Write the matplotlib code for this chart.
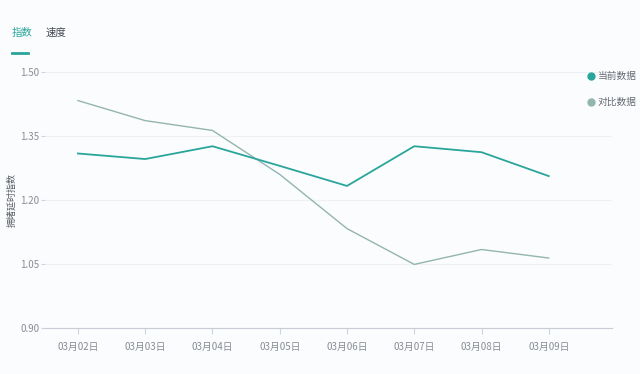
import matplotlib
matplotlib.use("Agg")
import matplotlib.pyplot as plt

plt.rcParams['font.family'] = ['Noto Sans CJK SC', 'DejaVu Sans']

dates = ['03月02日', '03月03日', '03月04日', '03月05日', '03月06日', '03月07日', '03月08日', '03月09日']
current = [1.309, 1.296, 1.326, 1.280, 1.233, 1.326, 1.312, 1.256]
compare = [1.433, 1.386, 1.363, 1.260, 1.133, 1.049, 1.084, 1.064]
y_ticks = [0.90, 1.05, 1.20, 1.35, 1.50]
tabs = ['指数', '速度']
series_names = ['当前数据', '对比数据']

teal = '#2aa59b'
gray_teal = '#93b5ae'
bg = '#fbfcfe'
label_color = '#888c94'

fig = plt.figure(figsize=(6.4, 3.74), dpi=100)
fig.patch.set_facecolor(bg)
ax = fig.add_axes([45 / 640, 1 - 328 / 374, (612 - 45) / 640, (328 - 72) / 374])
ax.set_facecolor(bg)

x = list(range(len(dates)))
ax.plot(x, current, color=teal, lw=1.3, zorder=3)
ax.plot(x, compare, color=gray_teal, lw=1.0, zorder=2)

ax.set_xlim(-0.49, len(dates) - 1 + 0.94)
ax.set_ylim(y_ticks[0], y_ticks[-1])
ax.set_xticks(x)
ax.set_xticklabels(dates)
ax.set_yticks(y_ticks)
ax.set_yticklabels([f'{v:.2f}' for v in y_ticks])
ax.grid(axis='y', color='#eef0f4', lw=0.8, zorder=0)
ax.tick_params(axis='x', length=4, color='#d0d4da', labelsize=7, labelcolor=label_color, pad=6)
ax.tick_params(axis='y', length=3, color='#d0d4da', labelsize=7, labelcolor=label_color, pad=1)
for side in ['top', 'right', 'left']:
    ax.spines[side].set_visible(False)
ax.spines['bottom'].set_color('#c8ccd4')
ax.spines['bottom'].set_linewidth(0.8)

# y axis title, placed by hand so it stays inside the figure
fig.text(12 / 640, 1 - 200 / 374, '拥堵延时指数', fontsize=6.5, color='#555a62',
         rotation=90, va='center', ha='center')

# tabs at top
fig.text(12 / 640, 1 - 33 / 374, tabs[0], fontsize=7.5, color=teal, va='center', ha='left')
fig.text(46 / 640, 1 - 33 / 374, tabs[1], fontsize=7.5, color='#444850', va='center', ha='left')
fig.add_artist(plt.Line2D([12 / 640, 28 / 640], [1 - 53 / 374] * 2, color=teal, lw=2))

# legend
for i, (name, c) in enumerate(zip(series_names, [teal, gray_teal])):
    yy = 1 - (76 + i * 26) / 374
    fig.add_artist(plt.Line2D([591 / 640], [yy], marker='o', ms=5, color=c, lw=0))
    fig.text(598 / 640, yy, name, fontsize=7, color='#666a72', va='center', ha='left')

fig.savefig('out.png', dpi=100, facecolor=bg)
